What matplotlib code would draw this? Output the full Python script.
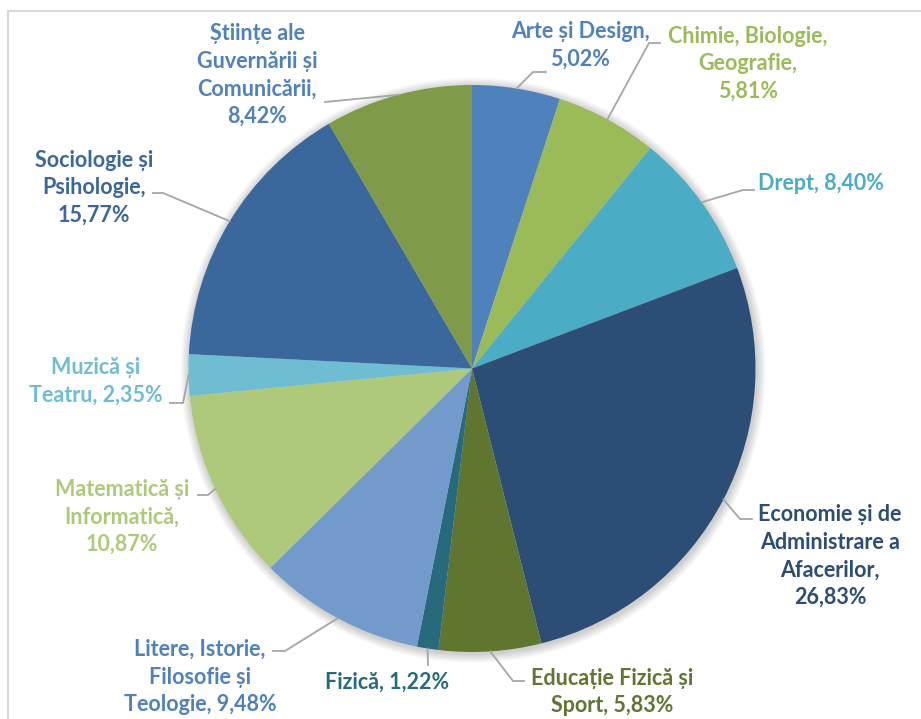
import numpy as np
import matplotlib
matplotlib.use('Agg')
import matplotlib.pyplot as plt
from matplotlib.patches import Rectangle, Circle

# domains, share of students (%)
domains = ['Arte și Design', 'Chimie, Biologie, Geografie', 'Drept',
           'Economie și de Administrare a Afacerilor', 'Educație Fizică și Sport',
           'Fizică', 'Litere, Istorie, Filosofie și Teologie',
           'Matematică și Informatică', 'Muzică și Teatru',
           'Sociologie și Psihologie', 'Științe ale Guvernării și Comunicării']
shares = [5.02, 5.81, 8.40, 26.83, 5.83, 1.22, 9.48, 10.87, 2.35, 15.77, 8.42]

# label text as wrapped in the picture
label_fmt = ['Arte și Design,\n{}', 'Chimie, Biologie,\nGeografie,\n{}', 'Drept, {}',
             'Economie și de\nAdministrare a\nAfacerilor,\n{}', 'Educație Fizică și\nSport, {}',
             'Fizică, {}', 'Litere, Istorie,\nFilosofie și\nTeologie, {}',
             'Matematică și\nInformatică,\n{}', 'Muzică și\nTeatru, {}',
             'Sociologie și\nPsihologie,\n{}', 'Științe ale\nGuvernării și\nComunicării,\n{}']

colors = ['#4F81BD', '#9BBB59', '#4BACC6', '#2C4D75', '#5F7530', '#276A7C',
          '#729ACA', '#AFC97A', '#6FBDD1', '#3A679C', '#7F9A48']
text_colors = ['#4F81BD', '#9BBB59', '#4BACC6', '#2C4D75', '#5F7530', '#276A7C',
               '#4F81BD', '#AFC97A', '#6FBDD1', '#3A679C', '#4F81BD']

# layout in pixels: label centre, leader knee, leader end
W, H = 921, 719
CX, CY, R = 472, 368.5, 283.5
text_px = [(580, 45), (748, 64), (821, 184), (830, 556), (612, 692), (387, 682),
           (200, 677), (122, 517), (96, 381), (94, 188), (257, 75)]
knee_px = [(533, 72), (649, 43), (743, 190), (740, 519), (513, 681), (428, 665),
           (285, 651), (208, 495), (183, 403), (163, 193), (325, 102)]
end_px = [(546, 72), (660, 43), (754, 190), (752, 519), (524, 681), (428, 665),
          (273, 651), (198, 495), (170, 403), (153, 193), (325, 102)]


def to_data(p):
    return ((p[0] - CX) / R, (CY - p[1]) / R)


plt.rcParams['font.family'] = ['Lato', 'DejaVu Sans']
fig = plt.figure(figsize=(W / 100, H / 100), dpi=100)
ax = fig.add_axes([0, 0, 1, 1])

# chart frame
fig.patches.append(Rectangle((8 / W, -0.1), 1.2, (H - 11) / H + 0.1, transform=fig.transFigure,
                             fill=False, edgecolor='#D9D9D9', linewidth=1.5))

# soft shadow
for k in range(8):
    ax.add_patch(Circle((0.004, -0.006), 1 + 0.004 * (k + 1), color='black',
                        alpha=0.025, linewidth=0, zorder=0))

wedges, _ = ax.pie(shares, colors=colors, startangle=90, counterclock=False,
                   radius=1, center=(0, 0), wedgeprops=dict(linewidth=0))
for w in wedges:
    w.set_zorder(2)

ax.set_xlim(-CX / R, (W - CX) / R)
ax.set_ylim((CY - H) / R, CY / R)
ax.set_aspect('equal')
ax.axis('off')

for i, w in enumerate(wedges):
    mid = np.deg2rad((w.theta1 + w.theta2) / 2)
    start = (np.cos(mid), np.sin(mid))
    kx, ky = to_data(knee_px[i])
    ex, ey = to_data(end_px[i])
    ax.plot([start[0], kx, ex], [start[1], ky, ey], color='#A6A6A6', lw=1.3, zorder=3)
    pct = f'{shares[i]:.2f}'.replace('.', ',') + '%'
    tx, ty = to_data(text_px[i])
    ax.text(tx, ty, label_fmt[i].format(pct), ha='center', va='center',
            multialignment='center', color=text_colors[i], fontsize=15.5,
            fontweight='bold', linespacing=1.38, zorder=4)

fig.savefig('out.png', dpi=100)
